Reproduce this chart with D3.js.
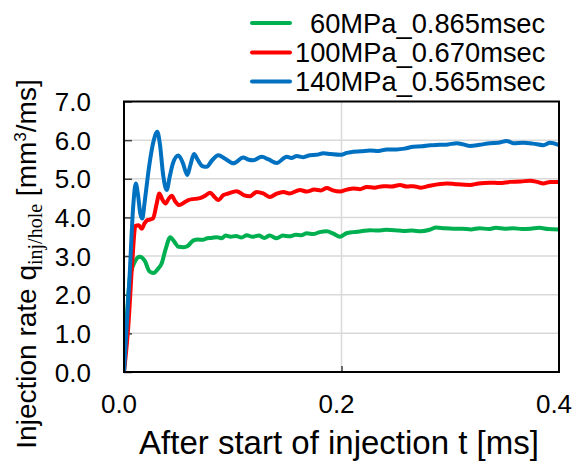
<!DOCTYPE html>
<html>
<head>
<meta charset="utf-8">
<script src="https://cdn.jsdelivr.net/npm/d3@7"></script>
<style>
  html, body { margin: 0; padding: 0; background: #fff; }
  svg { display: block; }
</style>
</head>
<body>
<svg id="chart" width="582" height="464"></svg>
<script>
// ---- Data ----
const seriesNames = ["60MPa_0.865msec", "100MPa_0.670msec", "140MPa_0.565msec"];
const seriesColors = ["#00B050", "#FF0000", "#0070C0"];

const tGreen = [0,0.003,0.0055,0.0107,0.0145,0.019,0.0235,0.0272,0.031,0.0345,0.0385,0.0425,0.0465,0.050,0.055,0.0585,0.0635,0.068,0.0725,0.0765,0.0805,0.0855,0.0895,0.0935,0.098,0.103,0.108,0.113,0.118,0.124,0.129,0.134,0.1404,0.146,0.152,0.158,0.163,0.168,0.174,0.180,0.1864,0.1925,0.1986,0.2045,0.211,0.218,0.226,0.233,0.241,0.249,0.257,0.265,0.273,0.281,0.287,0.295,0.303,0.311,0.319,0.327,0.335,0.342,0.350,0.358,0.366,0.374,0.382,0.390,0.4];
const vGreen = [0,1.6,2.46,2.89,2.98,2.88,2.6,2.56,2.66,2.8,3.2,3.49,3.36,3.24,3.23,3.26,3.40,3.43,3.42,3.46,3.47,3.49,3.46,3.53,3.50,3.52,3.48,3.54,3.50,3.53,3.47,3.53,3.46,3.53,3.51,3.55,3.54,3.59,3.57,3.62,3.64,3.58,3.50,3.59,3.62,3.64,3.67,3.66,3.68,3.67,3.65,3.66,3.64,3.68,3.74,3.72,3.71,3.71,3.69,3.72,3.70,3.73,3.71,3.72,3.70,3.71,3.73,3.70,3.69];

const tRed = [0,0.004,0.0075,0.0105,0.0135,0.0163,0.019,0.0215,0.0245,0.0268,0.0300,0.0325,0.0355,0.0383,0.041,0.0439,0.047,0.0509,0.055,0.0591,0.065,0.0699,0.075,0.0791,0.0835,0.0867,0.0915,0.0959,0.1036,0.110,0.1159,0.122,0.128,0.1343,0.140,0.1465,0.152,0.1618,0.168,0.175,0.181,0.1864,0.192,0.1986,0.205,0.2109,0.217,0.2232,0.230,0.2384,0.246,0.2538,0.260,0.266,0.273,0.281,0.2967,0.305,0.3182,0.326,0.3366,0.345,0.355,0.365,0.3733,0.380,0.3856,0.392,0.4];
const vRed = [0,1.2,2.8,3.78,3.80,3.71,3.85,3.93,3.95,3.98,4.35,4.62,4.45,4.36,4.48,4.56,4.42,4.32,4.38,4.45,4.48,4.50,4.57,4.64,4.52,4.45,4.58,4.62,4.68,4.58,4.55,4.66,4.62,4.53,4.61,4.66,4.62,4.71,4.67,4.72,4.70,4.76,4.70,4.67,4.72,4.75,4.73,4.79,4.77,4.81,4.80,4.84,4.80,4.81,4.77,4.82,4.88,4.86,4.84,4.88,4.90,4.89,4.92,4.93,4.95,4.92,4.88,4.92,4.92];

const tBlue = [0,0.005,0.0085,0.0108,0.0128,0.0150,0.0168,0.019,0.023,0.027,0.0306,0.033,0.036,0.0393,0.042,0.045,0.050,0.054,0.0582,0.061,0.0644,0.068,0.072,0.076,0.081,0.0867,0.093,0.1005,0.1097,0.114,0.1189,0.1266,0.133,0.1404,0.1496,0.154,0.1588,0.165,0.171,0.177,0.1833,0.190,0.1986,0.205,0.2109,0.218,0.2262,0.234,0.2416,0.2508,0.258,0.266,0.274,0.2814,0.290,0.298,0.3059,0.312,0.3182,0.327,0.3366,0.344,0.3519,0.358,0.3672,0.376,0.3856,0.3917,0.4];
const vBlue = [0,2.4,4.3,4.88,4.6,4.1,3.97,4.4,5.3,5.95,6.22,5.9,5.1,4.71,5.05,5.4,5.60,5.42,5.10,5.35,5.64,5.48,5.33,5.31,5.48,5.61,5.52,5.40,5.55,5.50,5.48,5.57,5.50,5.41,5.57,5.54,5.59,5.56,5.61,5.62,5.66,5.64,5.62,5.67,5.70,5.71,5.73,5.72,5.76,5.76,5.78,5.83,5.84,5.87,5.88,5.89,5.92,5.89,5.85,5.88,5.92,5.93,5.98,5.92,5.93,5.91,5.87,5.93,5.87];

const xTicks = [0, 0.2, 0.4];
const xTickLabels = ["0.0", "0.2", "0.4"];
const yTicks = [0, 1, 2, 3, 4, 5, 6, 7];
const yTickLabels = ["0.0", "1.0", "2.0", "3.0", "4.0", "5.0", "6.0", "7.0"];

// ---- Build ----
const series = [
  { name: seriesNames[0], color: seriesColors[0], t: tGreen, v: vGreen },
  { name: seriesNames[1], color: seriesColors[1], t: tRed, v: vRed },
  { name: seriesNames[2], color: seriesColors[2], t: tBlue, v: vBlue }
];

const svg = d3.select("#chart");
const font = "'Liberation Sans', Arial, sans-serif";
const L = 124, R = 559, T = 101.5, B = 372;

const x = d3.scaleLinear().domain([0, 0.4]).range([L, R]);
const y = d3.scaleLinear().domain([0, 7]).range([B, T]);

// gridlines
svg.append("g").selectAll("line").data(yTicks.slice(1, -1)).join("line")
  .attr("x1", L).attr("x2", R).attr("y1", d => y(d)).attr("y2", d => y(d))
  .attr("stroke", "#d9d9d9").attr("stroke-width", 1.5);
svg.append("g").selectAll("line").data([0.2]).join("line")
  .attr("x1", d => x(d)).attr("x2", d => x(d)).attr("y1", T).attr("y2", B)
  .attr("stroke", "#d9d9d9").attr("stroke-width", 1.5);

// y axis (inward ticks)
const yAxis = d3.axisRight(y).tickValues(yTicks).tickSize(8).tickFormat(() => "");
const gy = svg.append("g").attr("transform", `translate(${L},0)`).call(yAxis);
gy.select(".domain").remove();
gy.selectAll(".tick line").attr("stroke", "#404040").attr("stroke-width", 1.5);

// x axis (inward ticks)
const xAxis = d3.axisTop(x).tickValues([0.2]).tickSize(6).tickFormat(() => "");
const gx = svg.append("g").attr("transform", `translate(0,${B})`).call(xAxis);
gx.select(".domain").remove();
gx.selectAll(".tick line").attr("stroke", "#404040").attr("stroke-width", 1.5);

// tick labels
svg.append("g").selectAll("text").data(yTicks).join("text")
  .attr("x", 91).attr("y", d => y(d) + 0.5).attr("dy", "0.35em")
  .attr("text-anchor", "end").attr("font-family", font).attr("font-size", 26)
  .attr("fill", "#000").text((d, i) => yTickLabels[i]);
svg.append("g").selectAll("text").data(xTicks).join("text")
  .attr("x", d => x(d) - 5).attr("y", 404).attr("dy", "0.35em")
  .attr("text-anchor", "middle").attr("font-family", font).attr("font-size", 26)
  .attr("fill", "#000").text((d, i) => xTickLabels[i]);

// lines
const line = d3.line().x(d => x(d[0])).y(d => y(d[1])).curve(d3.curveMonotoneX);
svg.append("clipPath").attr("id", "clip").append("rect")
  .attr("x", L).attr("y", T - 10).attr("width", R - L).attr("height", B - T + 10);
svg.append("g").attr("clip-path", "url(#clip)").selectAll("path").data(series).join("path")
  .attr("d", s => line(s.t.map((t, i) => [t, s.v[i]])))
  .attr("fill", "none").attr("stroke", s => s.color).attr("stroke-width", 4)
  .attr("stroke-linejoin", "round").attr("stroke-linecap", "round");

// plot border
svg.append("rect").attr("x", L).attr("y", T).attr("width", R - L).attr("height", B - T)
  .attr("fill", "none").attr("stroke", "#000").attr("stroke-width", 2);

// axis titles
svg.append("text").attr("x", 339).attr("y", 454).attr("text-anchor", "middle")
  .attr("font-family", font).attr("font-size", 33).attr("fill", "#000")
  .text("After start of injection t [ms]");

const yt = svg.append("text").attr("transform", "translate(36,264) rotate(-90)")
  .attr("text-anchor", "middle").attr("font-family", font).attr("font-size", 28).attr("fill", "#000");
yt.append("tspan").text("Injection rate q");
yt.append("tspan").attr("font-family", "'Liberation Serif', 'Times New Roman', serif")
  .attr("font-size", 20).attr("dy", 6).text("inj/hole");
yt.append("tspan").attr("dy", -6).text(" [mm");
yt.append("tspan").attr("font-size", 17).attr("dy", -10).text("3");
yt.append("tspan").attr("dy", 10).text("/ms]");

// legend
const lg = svg.append("g");
const legY = [23, 52.5, 81.5];
const legTextX = [310, 295, 295];
series.forEach((s, i) => {
  lg.append("line").attr("x1", 252).attr("x2", 290).attr("y1", legY[i]).attr("y2", legY[i])
    .attr("stroke", s.color).attr("stroke-width", 4).attr("stroke-linecap", "round");
  lg.append("text").attr("x", legTextX[i]).attr("y", legY[i]).attr("dy", "0.35em")
    .attr("font-family", font).attr("font-size", 27.3).attr("fill", "#000").text(s.name);
});
</script>
</body>
</html>
